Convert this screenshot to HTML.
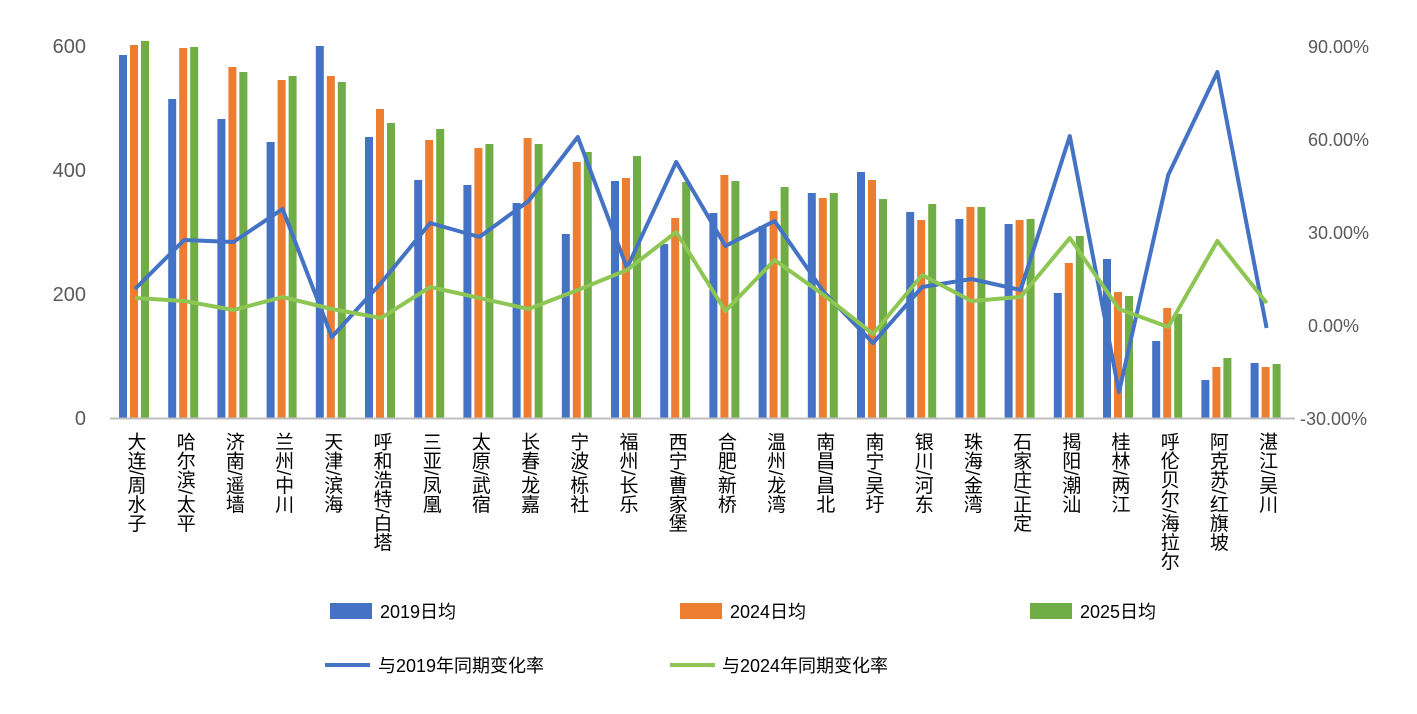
<!DOCTYPE html>
<html><head><meta charset="utf-8"><style>
body{margin:0;background:#fff;width:1417px;height:709px;overflow:hidden}
text{font-family:"Liberation Sans","Noto Sans CJK SC",sans-serif}
</style></head><body>
<svg width="1417" height="709" xmlns="http://www.w3.org/2000/svg">
<g font-size="20" fill="#595959" text-anchor="end">
<text x="86" y="53">600</text><text x="86" y="177">400</text><text x="86" y="301">200</text><text x="86" y="425">0</text>
</g>
<g font-size="18" fill="#595959" text-anchor="start">
<text x="1308" y="53">90.00%</text><text x="1308" y="146">60.00%</text><text x="1308" y="239">30.00%</text><text x="1308" y="332">0.00%</text><text x="1300" y="425">-30.00%</text>
</g>
<g id="bars"></g>
<line x1="110" y1="418.5" x2="1295" y2="418.5" stroke="#bfbfbf" stroke-width="2"/>
<polyline id="bl" fill="none" stroke="#4472c4" stroke-width="4" stroke-linejoin="round"/>
<polyline id="gl" fill="none" stroke="#8dc653" stroke-width="4" stroke-linejoin="round"/>
<g id="labels" font-size="19" fill="#000"></g>
<rect x="330" y="603" width="42" height="16" fill="#4472c4"/><text x="380" y="618" font-size="18">2019日均</text>
<rect x="680" y="603" width="42" height="16" fill="#ed7d31"/><text x="730" y="618" font-size="18">2024日均</text>
<rect x="1030" y="603" width="42" height="16" fill="#70ad47"/><text x="1080" y="618" font-size="18">2025日均</text>
<line x1="325" y1="665" x2="370" y2="665" stroke="#4472c4" stroke-width="4"/><text x="378" y="672" font-size="18">与2019年同期变化率</text>
<line x1="670" y1="665" x2="715" y2="665" stroke="#8dc653" stroke-width="4"/><text x="722" y="672" font-size="18">与2024年同期变化率</text>
</svg>
<script>
var names=["大连/周水子","哈尔滨/太平","济南/遥墙","兰州/中川","天津/滨海","呼和浩特/白塔","三亚/凤凰","太原/武宿","长春/龙嘉","宁波/栎社","福州/长乐","西宁/曹家堡","合肥/新桥","温州/龙湾","南昌/昌北","南宁/吴圩","银川/河东","珠海/金湾","石家庄/正定","揭阳/潮汕","桂林/两江","呼伦贝尔/海拉尔","阿克苏/红旗坡","湛江/吴川"];
var b=[[55,45,41],[99,48,47],[119,67,72],[142,80,76],[46,76,82],[137,109,123],[180,140,129],[185,148,144],[203,138,144],[234,162,152],[181,178,156],[244,218,182],[213,175,181],[226,211,187],[193,198,193],[172,180,199],[212,220,204],[219,207,207],[224,220,219],[293,263,236],[259,292,296],[341,308,314],[380,367,358],[363,367,364]];
var bl=[289,240,242,209,337,283,223,237,201,137,268,162,246,221,292,343,287,279,290,136,392,175,72,328];
var gl=[298,301,310,297,309,318,287,298,309,290,270,232,311,260,295,334,275,301,297,238,309,327,241,303];
var cols=["#4472c4","#ed7d31","#70ad47"],ns="http://www.w3.org/2000/svg";
var g=document.getElementById("bars"),L=document.getElementById("labels"),p1=[],p2=[];
for(var i=0;i<24;i++){var c=135+i*49.2;
for(var k=0;k<3;k++){var r=document.createElementNS(ns,"rect");r.setAttribute("x",c-16+k*11);r.setAttribute("y",b[i][k]);r.setAttribute("width",8);r.setAttribute("height",418-b[i][k]);r.setAttribute("fill",cols[k]);g.appendChild(r);}
p1.push(c+","+bl[i]);p2.push(c+","+gl[i]);
var t=document.createElementNS(ns,"text");t.setAttribute("x",c);t.setAttribute("y",432);t.setAttribute("style","writing-mode:vertical-rl;glyph-orientation-vertical:0");t.textContent=names[i];L.appendChild(t);}
document.getElementById("bl").setAttribute("points",p1.join(" "));
document.getElementById("gl").setAttribute("points",p2.join(" "));
</script>
</body></html>
